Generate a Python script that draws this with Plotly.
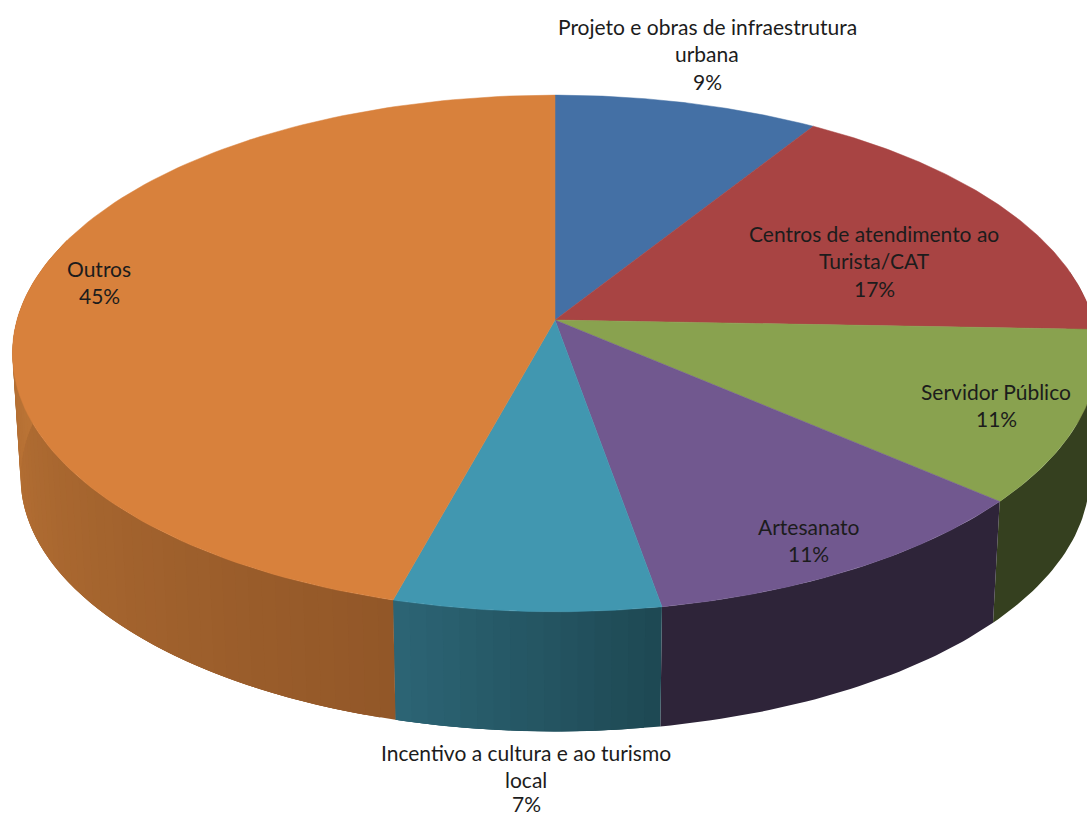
import numpy as np
import plotly.graph_objects as go

# Pie data
categories = ["Projeto e obras de infraestrutura urbana", "Centros de atendimento ao Turista/CAT",
              "Servidor Público", "Artesanato", "Incentivo a cultura e ao turismo local", "Outros"]
shares = [9, 17, 11, 11, 7, 45]
label_lines = [["Projeto e obras de infraestrutura", "urbana"],
               ["Centros de atendimento ao", "Turista/CAT"],
               ["Servidor Público"],
               ["Artesanato"],
               ["Incentivo a cultura e ao turismo", "local"],
               ["Outros"]]

# Slice styling
top_colors = ["#4470a5", "#a84443", "#89a24f", "#71588f", "#4197b0", "#d8813c"]
wall_left = ["#2a4163", "#652928", "#35401f", "#2e2439", "#2c6575", "#c27938"]
wall_right = ["#2a4163", "#652928", "#35401f", "#2e2439", "#1e4853", "#925728"]
label_pos = [(707, 26), (874, 233), (996, 391), (808, 526), (526, 752), (99, 268)]

# Perspective of the tilted disc, in page pixels
CX, CY = 555.0, 320.0
RX, RY, TILT = 538.0, 254.0, 0.1295
DEPTH, SHRINK = 124.0, 0.985
VIEW_SKEW = np.radians(1.4)
LINE_GAP = 27.7
LOWEST_TEXT_Y = 803


def rim(theta):
    """Project clockwise-from-north angles on to the top face of the disc."""
    view = theta - VIEW_SKEW * (1 - np.cos(theta))
    w = 1 + TILT * np.cos(view)
    return CX + RX * np.sin(view) / w, CY - RY * np.cos(view) / w


def floor(theta):
    """Matching points on the lower edge of the disc wall."""
    x, y = rim(theta)
    return CX + (x - CX) * SHRINK, CY + (y - CY) * SHRINK + DEPTH


def hex_mix(a, b, t):
    ca = [int(a[i:i + 2], 16) for i in (1, 3, 5)]
    cb = [int(b[i:i + 2], 16) for i in (1, 3, 5)]
    return "rgb(%d,%d,%d)" % tuple(round(p + (q - p) * t) for p, q in zip(ca, cb))


def add_wall_piece(t0, t1, color):
    t = np.linspace(t0, t1, max(3, int(np.degrees(t1 - t0)) + 2))
    xt, yt = rim(t)
    xb, yb = floor(t[::-1])
    fig.add_trace(go.Scatter(
        x=np.concatenate([xt, xb]), y=np.concatenate([yt, yb]),
        mode="lines", fill="toself", fillcolor=color,
        line=dict(width=0), hoverinfo="skip", showlegend=False))


edges = 2 * np.pi * np.concatenate([[0], np.cumsum(shares)]) / np.sum(shares)
fig = go.Figure()

# Walls: shaded slices use narrow strips, each overlapping the next to hide seams
for i in range(len(shares)):
    lo, hi = max(edges[i], np.radians(80)), min(edges[i + 1], np.radians(290))
    if lo >= hi:
        continue
    if wall_left[i] == wall_right[i]:
        add_wall_piece(lo, hi, wall_left[i])
        continue
    steps = max(2, int(np.degrees(hi - lo) / 1.5))
    ticks = np.linspace(lo, hi, steps + 1)
    for j in range(steps):
        frac = (j + 0.5) / steps
        add_wall_piece(ticks[j], ticks[min(j + 3, steps)], hex_mix(wall_right[i], wall_left[i], frac))

# Top faces
for i, name in enumerate(categories):
    t = np.linspace(edges[i], edges[i + 1], 120)
    xt, yt = rim(t)
    fig.add_trace(go.Scatter(
        x=np.concatenate([[CX], xt, [CX]]), y=np.concatenate([[CY], yt, [CY]]),
        mode="lines", fill="toself", fillcolor=top_colors[i],
        line=dict(color=top_colors[i], width=0.5), name=name, showlegend=False))

# Labels: every text line is placed on its own to keep the open line spacing
for i, lines in enumerate(label_lines):
    px, py = label_pos[i]
    for k, text in enumerate(lines + [f"{shares[i]}%"]):
        fig.add_annotation(x=px, y=min(py + k * LINE_GAP, LOWEST_TEXT_Y), text=text, showarrow=False,
                           xref="x", yref="y", xanchor="center", yanchor="middle",
                           font=dict(family="Lato, Open Sans, sans-serif", size=21, color="#1c1c1c"))

fig.update_layout(
    width=1087, height=818, margin=dict(l=0, r=0, t=0, b=0),
    paper_bgcolor="white", plot_bgcolor="white", showlegend=False,
    xaxis=dict(range=[0, 1087], visible=False, fixedrange=True),
    yaxis=dict(range=[818, 0], visible=False, fixedrange=True),
)
fig.write_html("out.html", config={"displayModeBar": False})
